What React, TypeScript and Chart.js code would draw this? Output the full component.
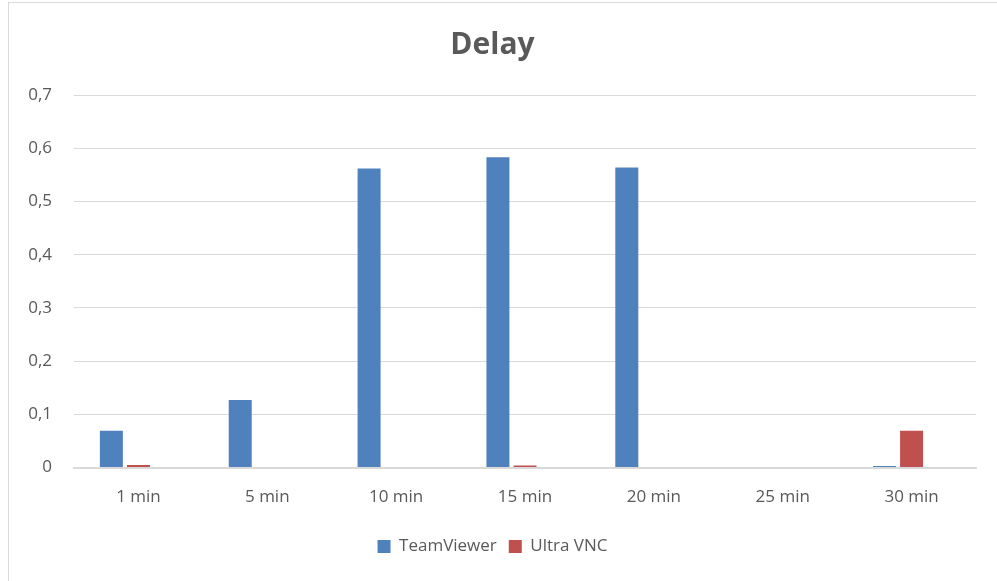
import React, { useEffect, useRef } from "react";
import { Chart, registerables } from "chart.js";

Chart.register(...registerables);

const categories = ["1 min", "5 min", "10 min", "15 min", "20 min", "25 min", "30 min"];
const teamViewer = [0.069, 0.127, 0.562, 0.583, 0.564, 0, 0.003];
const ultraVnc = [0.005, 0.001, 0, 0.004, 0, 0, 0.069];
const emptySeries = [null, null, null, null, null, null, null];
const yTicks = [0, 0.1, 0.2, 0.3, 0.4, 0.5, 0.6, 0.7];

const FONT = "'Open Sans', sans-serif";
const TEXT = "#595959";
const GRID = "#d9d9d9";

export default function App() {
  const ref = useRef<HTMLCanvasElement | null>(null);

  useEffect(() => {
    if (!ref.current) return;
    const chart = new Chart(ref.current, {
      type: "bar",
      data: {
        labels: categories,
        datasets: [
          { label: "TeamViewer", data: teamViewer, backgroundColor: "#4F81BD", categoryPercentage: 0.63, barPercentage: 0.85 },
          { label: "Ultra VNC", data: ultraVnc, backgroundColor: "#C0504D", categoryPercentage: 0.63, barPercentage: 0.85 },
          { label: "", data: emptySeries as any, backgroundColor: "#9BBB59", categoryPercentage: 0.63, barPercentage: 0.85 },
        ],
      },
      options: {
        animation: false,
        responsive: false,
        maintainAspectRatio: false,
        layout: { padding: { left: 0, right: 21, top: 0, bottom: 16 } },
        plugins: {
          title: {
            display: true,
            text: "Delay",
            color: TEXT,
            font: { family: FONT, size: 30, weight: "bold" },
            padding: { top: 24, bottom: 32 },
          },
          legend: {
            position: "bottom",
            labels: {
              color: TEXT,
              font: { family: FONT, size: 17 },
              boxWidth: 13,
              boxHeight: 13,
              padding: 12,
              filter: (item) => item.text !== "",
            },
          },
          tooltip: { enabled: false },
        },
        scales: {
          x: {
            grid: { display: false, drawTicks: false },
            border: { color: GRID, width: 2 },
            ticks: { color: TEXT, font: { family: FONT, size: 17 }, padding: 19, maxRotation: 0 },
          },
          y: {
            min: 0,
            max: 0.7,
            afterBuildTicks: (scale: any) => {
              scale.ticks = yTicks.map((v) => ({ value: v }));
            },
            afterFit: (scale: any) => {
              scale.width = 65;
            },
            grid: { color: GRID, drawTicks: false },
            border: { display: false },
            ticks: {
              color: TEXT,
              font: { family: FONT, size: 17 },
              padding: 22,
              callback: (v: any) => (Number(v) === 0 ? "0" : Number(v).toFixed(1).replace(".", ",")),
            },
          },
        },
      },
    });
    return () => chart.destroy();
  }, []);

  return (
    <div
      style={{
        position: "absolute",
        left: 8,
        top: 2,
        width: 989,
        height: 579,
        borderLeft: "1px solid #d9d9d9",
        borderTop: "1px solid #d9d9d9",
        background: "#fff",
        overflow: "hidden",
      }}
    >
      <canvas ref={ref} width={988} height={578} style={{ display: "block" }} />
    </div>
  );
}
